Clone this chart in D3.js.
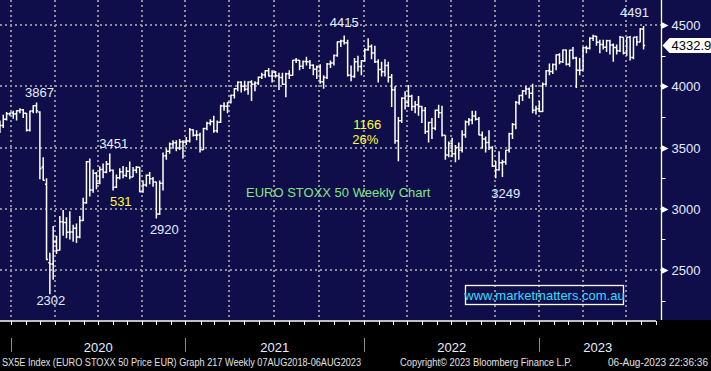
<!DOCTYPE html>
<html>
<head>
<meta charset="utf-8">
<script src="https://cdn.jsdelivr.net/npm/d3@7"></script>
<style>
  body { margin: 0; background: #000; }
  svg { display: block; }
</style>
</head>
<body>
<div id="chart"></div>
<script>
// weekly bars, Friday of each week (Dec 2019 - Aug 2023)
const weeks = d3.timeFriday.range(new Date(2019, 11, 6), new Date(2023, 7, 5));

// open / high / low / close, one row of values per year block
const opens = [
  3700, 3680, 3731, 3776,
  // 2020
  3782, 3773, 3799, 3808, 3779, 3640, 3798, 3840, 3790, 3340, 3200, 2560, 2549,
  2728, 2662, 2893, 2888, 2809, 2810, 2841, 2770, 2905, 3050, 3384, 3153, 3290,
  3208, 3320, 3297, 3366, 3314, 3175, 3253, 3302, 3272, 3307, 3260, 3315, 3339,
  3139, 3194, 3273, 3245, 3218, 2958, 3208, 3432, 3469, 3528, 3539, 3496, 3547, 3543,
  // 2021
  3553, 3645, 3600, 3602, 3481, 3656, 3697, 3713, 3636, 3706, 3838, 3837, 3867,
  3926, 3979, 4032, 3999, 3975, 4034, 4017, 4026, 4073, 4093, 4126, 4083, 4115,
  4085, 4071, 4016, 4103, 4089, 4213, 4213, 4163, 4202, 4200, 4171, 4138, 4158,
  4036, 4072, 4182, 4189, 4251, 4363, 4370, 4356, 4089, 4080, 4199, 4161, 4209,
  // 2022
  4298, 4325, 4272, 4200, 4136, 4118, 4169, 4074, 3971, 3556, 3719, 3902, 3868,
  3919, 3835, 3848, 3834, 3803, 3630, 3704, 3658, 3805, 3783, 3599, 3438, 3533,
  3448, 3500, 3477, 3605, 3708, 3725, 3757, 3731, 3603, 3570, 3540, 3500, 3349,
  3318, 3376, 3381, 3477, 3613, 3688, 3868, 3924, 3962, 3977, 3942, 3804, 3817,
  // 2023
  3794, 4017, 4127, 4120, 4178, 4258, 4199, 4295, 4180, 4294, 4230, 4130, 4131,
  4315, 4310, 4392, 4408, 4359, 4340, 4318, 4372, 4337, 4316, 4290, 4399, 4271,
  4399, 4234, 4400, 4361, 4467
];
const highs = [
  3720, 3767, 3790, 3786,
  3800, 3805, 3820, 3815, 3780, 3800, 3845, 3867, 3795, 3420, 3250, 2640, 2860,
  2780, 2940, 2990, 2930, 2980, 2870, 2880, 2940, 3090, 3390, 3410, 3320, 3300,
  3345, 3370, 3390, 3451, 3320, 3280, 3330, 3350, 3340, 3385, 3340, 3350, 3340,
  3230, 3280, 3300, 3260, 3220, 3230, 3460, 3490, 3540, 3560, 3560, 3570, 3560, 3585,
  3660, 3650, 3640, 3620, 3660, 3710, 3730, 3760, 3720, 3850, 3870, 3870, 3930,
  3985, 4040, 4040, 4045, 4040, 4050, 4040, 4080, 4110, 4130, 4150, 4130, 4125,
  4110, 4110, 4110, 4130, 4215, 4230, 4215, 4210, 4240, 4215, 4180, 4170, 4180,
  4090, 4190, 4210, 4260, 4365, 4380, 4415, 4380, 4170, 4230, 4250, 4215, 4310,
  4392, 4340, 4330, 4220, 4200, 4220, 4200, 4100, 4000, 3750, 3910, 3960, 4010,
  3930, 3880, 3920, 3840, 3830, 3710, 3740, 3810, 3850, 3840, 3600, 3550, 3580,
  3520, 3540, 3640, 3720, 3740, 3800, 3800, 3750, 3630, 3590, 3640, 3510, 3390,
  3470, 3400, 3480, 3620, 3700, 3880, 3930, 3970, 4000, 3990, 4020, 3840, 3880,
  4030, 4130, 4185, 4185, 4260, 4270, 4300, 4300, 4300, 4320, 4240, 4230, 4320,
  4330, 4400, 4420, 4410, 4380, 4380, 4380, 4380, 4350, 4340, 4410, 4400, 4400,
  4410, 4400, 4410, 4475, 4491
];
const lows = [
  3618, 3660, 3720, 3760,
  3735, 3720, 3780, 3740, 3630, 3630, 3780, 3780, 3240, 3230, 2580, 2302, 2420,
  2630, 2660, 2780, 2760, 2750, 2730, 2720, 2760, 2900, 3040, 3100, 3130, 3160,
  3200, 3250, 3290, 3300, 3150, 3170, 3240, 3250, 3260, 3240, 3260, 3290, 3135,
  3130, 3180, 3200, 3180, 2920, 2950, 3150, 3400, 3450, 3490, 3470, 3480, 3410, 3520,
  3540, 3590, 3560, 3460, 3480, 3640, 3680, 3620, 3620, 3700, 3800, 3780, 3860,
  3900, 3960, 3950, 3960, 3930, 3880, 3960, 4010, 4060, 4070, 4080, 4030, 4070,
  3970, 4010, 3910, 4060, 4085, 4190, 4130, 4140, 4170, 4140, 4090, 4060, 4020,
  3980, 4060, 4150, 4170, 4240, 4320, 4340, 4080, 4040, 4070, 4120, 4090, 4200,
  4290, 4220, 4190, 4030, 4080, 4080, 4030, 3830, 3530, 3387, 3700, 3810, 3830,
  3800, 3780, 3760, 3700, 3610, 3540, 3570, 3640, 3740, 3590, 3400, 3420, 3420,
  3380, 3400, 3460, 3580, 3680, 3690, 3720, 3600, 3490, 3460, 3480, 3340, 3249,
  3310, 3260, 3360, 3460, 3570, 3650, 3850, 3880, 3930, 3900, 3780, 3770, 3790,
  3790, 4010, 4090, 4100, 4130, 4180, 4190, 4170, 4160, 4220, 3985, 4090, 4130,
  4270, 4300, 4370, 4330, 4270, 4300, 4280, 4260, 4200, 4260, 4280, 4260, 4250,
  4210, 4220, 4330, 4360, 4300
];
const closes = [
  3680, 3731, 3776, 3782,
  3773, 3799, 3808, 3779, 3640, 3798, 3840, 3800, 3329, 3232, 2586, 2549, 2728,
  2662, 2893, 2888, 2809, 2810, 2841, 2770, 2905, 3050, 3384, 3153, 3290, 3208,
  3320, 3297, 3366, 3314, 3175, 3253, 3302, 3272, 3307, 3260, 3315, 3339, 3139,
  3194, 3273, 3245, 3218, 2958, 3208, 3432, 3469, 3528, 3539, 3496, 3547, 3543, 3553,
  3645, 3600, 3602, 3481, 3656, 3697, 3713, 3636, 3706, 3838, 3837, 3867, 3926,
  3979, 4032, 3999, 3975, 4034, 4017, 4026, 4073, 4093, 4126, 4083, 4115, 4085,
  4071, 4016, 4103, 4089, 4213, 4213, 4163, 4202, 4200, 4171, 4138, 4158, 4036,
  4072, 4182, 4189, 4251, 4363, 4370, 4356, 4089, 4080, 4199, 4161, 4209, 4298,
  4325, 4272, 4200, 4136, 4118, 4169, 4074, 3971, 3556, 3719, 3902, 3868, 3919,
  3835, 3848, 3834, 3803, 3630, 3704, 3658, 3805, 3783, 3599, 3438, 3533, 3448,
  3500, 3477, 3605, 3708, 3725, 3757, 3731, 3603, 3570, 3540, 3500, 3349, 3318,
  3376, 3381, 3477, 3613, 3688, 3868, 3924, 3962, 3977, 3942, 3804, 3817, 3794,
  4017, 4127, 4120, 4178, 4258, 4199, 4295, 4180, 4294, 4230, 4130, 4131, 4315,
  4310, 4392, 4408, 4359, 4340, 4318, 4372, 4337, 4316, 4290, 4399, 4271, 4399,
  4234, 4400, 4361, 4467, 4333
];

const lastPrice = 4332.91;
const priceTicks = [2500, 3000, 3500, 4000, 4500];
const minorTicks = [2250, 2750, 3250, 3750, 4250];
const years = ["2020", "2021", "2022", "2023"];
const yearStarts = years.map((yr) => new Date(+yr, 0, 1));

// labels put on the chart by hand
const annotations = [
  { text: "3867", date: new Date(2020, 1, 21), value: 3867, dx: 3, dy: -10, color: "#e4ecff" },
  { text: "2302", date: new Date(2020, 2, 20), value: 2302, dx: 1, dy: 6, color: "#e4ecff" },
  { text: "3451", date: new Date(2020, 6, 24), value: 3451, dx: 4, dy: -10, color: "#e4ecff" },
  { text: "2920", date: new Date(2020, 9, 30), value: 2920, dx: 8, dy: 11, color: "#e4ecff" },
  { text: "4415", date: new Date(2021, 10, 19), value: 4415, dx: 0, dy: -13, color: "#e4ecff" },
  { text: "3249", date: new Date(2022, 8, 30), value: 3249, dx: 10, dy: 15, color: "#e4ecff" },
  { text: "4491", date: new Date(2023, 7, 4), value: 4491, dx: -9, dy: -14, color: "#e4ecff" },
  { text: "531", date: new Date(2020, 6, 24), value: 3451, dx: 11, dy: 48, color: "#ffff33" },
  { text: "1166", date: new Date(2021, 10, 19), value: 4415, dx: 23, dy: 89, color: "#ffff33" },
  { text: "26%", date: new Date(2021, 10, 19), value: 4415, dx: 21, dy: 104, color: "#ffff33" }
];

const footerLeft = "SX5E Index (EURO STOXX 50 Price EUR) Graph 217  Weekly 07AUG2018-06AUG2023";
const footerMid = "Copyright\u00a9 2023 Bloomberg Finance L.P.";
const footerRight = "06-Aug-2023 22:36:36";

const WIDTH = 711;
const HEIGHT = 371;
const PLOT_BOTTOM = 320;
const AXIS_X = 661.5;
const FONT = "'Liberation Sans', Arial, sans-serif";
const BAR_SHIFT = 1;

const x = d3.scaleTime().domain(yearStarts.concat([new Date(2023, 8, 1)]))
  .range([11.3, 185.3, 364.3, 539.3, 656]);
const y = d3.scaleLinear().domain([2500, 4500]).range([270, 25]);

const svg = d3.select("#chart").append("svg")
  .attr("width", WIDTH)
  .attr("height", HEIGHT);

svg.append("rect").attr("width", WIDTH).attr("height", HEIGHT).attr("fill", "#000");
svg.append("rect").attr("width", WIDTH).attr("height", PLOT_BOTTOM).attr("fill", "#0f0e4a");

//grid
svg.append("g").selectAll("line")
  .data(priceTicks)
  .join("line")
  .attr("x1", 0).attr("x2", AXIS_X)
  .attr("y1", (d) => Math.round(y(d))).attr("y2", (d) => Math.round(y(d)))
  .attr("stroke", "#8d8d99").attr("stroke-width", 2).attr("stroke-dasharray", "2,3");

const quarters = d3.timeMonth.every(3).range(new Date(2020, 0, 1), new Date(2023, 7, 1));
svg.append("g").selectAll("line")
  .data(quarters)
  .join("line")
  .attr("x1", (d) => Math.round(x(d))).attr("x2", (d) => Math.round(x(d)))
  .attr("y1", 0).attr("y2", PLOT_BOTTOM)
  .attr("stroke", "#8d8d99").attr("stroke-width", 2).attr("stroke-dasharray", "2,3");

//bars
svg.append("clipPath").attr("id", "plotClip")
  .append("rect").attr("x", 0).attr("y", 0).attr("width", AXIS_X).attr("height", PLOT_BOTTOM);

const bars = weeks.map((d, i) => ({ date: d, o: opens[i], h: highs[i], l: lows[i], c: closes[i] }));

svg.append("g").attr("clip-path", "url(#plotClip)")
  .selectAll("path")
  .data(bars)
  .join("path")
  .attr("d", (d) => {
    const bx = x(d.date) + BAR_SHIFT;
    return `M${bx},${y(d.h)}V${y(d.l)}M${bx - 1.6},${y(d.o)}H${bx}M${bx},${y(d.c)}H${bx + 1.6}`;
  })
  .attr("fill", "none")
  .attr("stroke", "#fff")
  .attr("stroke-width", 1.5);

//annotations
svg.append("g").selectAll("text")
  .data(annotations)
  .join("text")
  .attr("x", (d) => x(d.date) + BAR_SHIFT + d.dx)
  .attr("y", (d) => y(d.value) + d.dy)
  .attr("dy", "0.36em")
  .attr("text-anchor", "middle")
  .attr("font-family", FONT)
  .attr("font-size", 13)
  .attr("fill", (d) => d.color)
  .text((d) => d.text);

svg.append("text")
  .attr("x", 246).attr("y", 197)
  .attr("font-family", FONT).attr("font-size", 13)
  .attr("fill", "#86e386")
  .text("EURO STOXX 50 Weekly Chart");

svg.append("rect")
  .attr("x", 465.5).attr("y", 285.5).attr("width", 158).attr("height", 19)
  .attr("fill", "none").attr("stroke", "#fff").attr("stroke-width", 1.3);
svg.append("text")
  .attr("x", 544.5).attr("y", 299.5)
  .attr("text-anchor", "middle")
  .attr("font-family", FONT).attr("font-size", 13)
  .attr("fill", "#33dcff")
  .text("www.marketmatters.com.au");

//right axis
svg.append("line")
  .attr("x1", AXIS_X).attr("x2", AXIS_X).attr("y1", 0).attr("y2", PLOT_BOTTOM)
  .attr("stroke", "#fff").attr("stroke-width", 1.3);

svg.append("g").selectAll("line")
  .data(minorTicks)
  .join("line")
  .attr("x1", AXIS_X).attr("x2", AXIS_X + 4)
  .attr("y1", (d) => Math.round(y(d)) + 0.5).attr("y2", (d) => Math.round(y(d)) + 0.5)
  .attr("stroke", "#fff");

const majors = svg.append("g").selectAll("g")
  .data(priceTicks)
  .join("g")
  .attr("transform", (d) => `translate(${AXIS_X},${Math.round(y(d)) + 0.5})`);
majors.append("path").attr("d", "M0,-3.5L7,0L0,3.5Z").attr("fill", "#fff");
majors.append("text")
  .attr("x", 10).attr("dy", "0.36em")
  .attr("font-family", FONT).attr("font-size", 13)
  .attr("fill", "#e4ecff")
  .text((d) => d);

// last price tag, runs off the right edge like the original
const tag = svg.append("g").attr("transform", `translate(${AXIS_X + 1},${y(lastPrice)})`);
tag.append("path")
  .attr("d", "M0,0L7,-7.5H60V7.5H7Z")
  .attr("fill", "#fff");
tag.append("text")
  .attr("x", 9).attr("dy", "0.36em")
  .attr("font-family", FONT).attr("font-size", 13)
  .attr("fill", "#000")
  .text(lastPrice.toFixed(2));

//bottom axis
const axisEnd = x(new Date(2023, 8, 1));
svg.append("line")
  .attr("x1", 0).attr("x2", axisEnd).attr("y1", 321).attr("y2", 321)
  .attr("stroke", "#fff").attr("stroke-width", 1.5);

const months = d3.timeMonth.range(new Date(2020, 0, 1), new Date(2023, 8, 2));
svg.append("g").selectAll("line")
  .data(months)
  .join("line")
  .attr("x1", (d) => Math.round(x(d)) + 0.5).attr("x2", (d) => Math.round(x(d)) + 0.5)
  .attr("y1", 321).attr("y2", 325)
  .attr("stroke", "#fff");

svg.append("g").selectAll("line")
  .data(yearStarts)
  .join("line")
  .attr("x1", (d) => Math.round(x(d)) + 0.5).attr("x2", (d) => Math.round(x(d)) + 0.5)
  .attr("y1", 338).attr("y2", 352)
  .attr("stroke", "#8a8a8a");

svg.append("g").selectAll("text")
  .data(years)
  .join("text")
  .attr("x", (d, i) => {
    const start = x(yearStarts[i]);
    const end = i < years.length - 1 ? x(yearStarts[i + 1]) : axisEnd;
    return (start + end) / 2;
  })
  .attr("y", 352)
  .attr("text-anchor", "middle")
  .attr("font-family", FONT).attr("font-size", 13)
  .attr("fill", "#e8eeff")
  .text((d) => d);

//footer
const footer = [
  { text: footerLeft, x: 2, len: 359 },
  { text: footerMid, x: 400, len: 172 },
  { text: footerRight, x: 608, len: 100 }
];
svg.append("g").selectAll("text")
  .data(footer)
  .join("text")
  .attr("x", (d) => d.x).attr("y", 366)
  .attr("textLength", (d) => d.len)
  .attr("lengthAdjust", "spacingAndGlyphs")
  .attr("font-family", FONT).attr("font-size", 10)
  .attr("fill", "#e0e0e0")
  .text((d) => d.text);
</script>
</body>
</html>
